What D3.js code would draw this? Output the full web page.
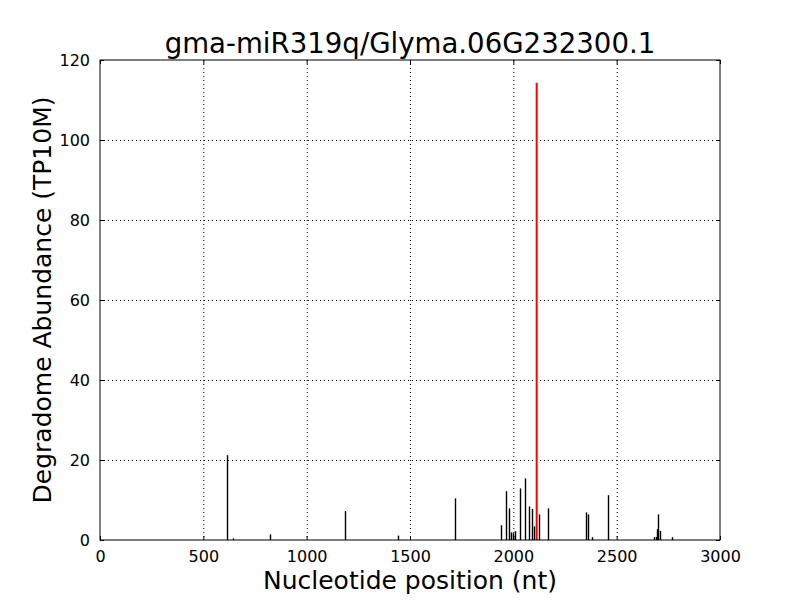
<!DOCTYPE html>
<html>
<head>
<meta charset="utf-8">
<script src="https://cdn.jsdelivr.net/npm/d3@7/dist/d3.min.js"></script>
<style>
  body { margin: 0; background: #fff; }
  svg { font-family: "DejaVu Sans", sans-serif; }
</style>
</head>
<body>
<div id="chart"></div>
<script>
const title = 'gma-miR319q/Glyma.06G232300.1';
const xLabel = 'Nucleotide position (nt)';
const yLabel = 'Degradome Abundance (TP10M)';

// degradome tags (position in nt, abundance)
const positions = [616, 642, 824, 1187, 1442, 1719, 1942, 1966, 1981, 1990, 2000, 2010,
    2034, 2058, 2077, 2092, 2101, 2123, 2169, 2353, 2363, 2382, 2460, 2682, 2690, 2697,
    2702, 2711, 2769];
const values = [21.2, 0.4, 1.4, 7.25, 1.1, 10.4, 3.7, 12.2, 7.9, 1.9, 1.7, 2.2,
    12.9, 15.4, 8.4, 7.75, 3.4, 6.4, 7.9, 6.9, 6.4, 0.7, 11.2, 0.75, 0.75, 2.7,
    6.4, 2.25, 0.7];

// cleavage site
const sitePos = [2113];
const siteVal = [114.3];

const xTicks = [0, 500, 1000, 1500, 2000, 2500, 3000];
const yTicks = [0, 20, 40, 60, 80, 100, 120];

const specs = {
    width: 800,
    height: 600,
    margin: { top: 60, right: 80, bottom: 60, left: 100 },
};

const width = specs.width - specs.margin.left - specs.margin.right;
const height = specs.height - specs.margin.top - specs.margin.bottom;

const x = d3.scaleLinear().domain([0, 3000]).range([0, width]);
const y = d3.scaleLinear().domain([0, 120]).range([height, 0]);

const svg = d3.select('#chart')
    .append('svg')
    .attr('width', specs.width)
    .attr('height', specs.height);

const g = svg.append('g')
    .attr('transform', `translate(${specs.margin.left},${specs.margin.top})`);

// grid
g.append('g')
    .selectAll('line')
    .data(xTicks.slice(1, -1))
    .enter()
    .append('line')
    .attr('x1', d => x(d) + 0.5)
    .attr('x2', d => x(d) + 0.5)
    .attr('y1', 0)
    .attr('y2', height)
    .attr('stroke', '#000')
    .attr('stroke-width', 1)
    .attr('stroke-dasharray', '1,3');

g.append('g')
    .selectAll('line')
    .data(yTicks.slice(1, -1))
    .enter()
    .append('line')
    .attr('x1', 0)
    .attr('x2', width)
    .attr('y1', d => y(d) + 0.5)
    .attr('y2', d => y(d) + 0.5)
    .attr('stroke', '#000')
    .attr('stroke-width', 1)
    .attr('stroke-dasharray', '1,3');

// bars
const tags = positions.map((p, i) => ({ pos: p, value: values[i] }));
g.append('g')
    .selectAll('line')
    .data(tags)
    .enter()
    .append('line')
    .attr('x1', d => Math.round(x(d.pos)) + 0.5)
    .attr('x2', d => Math.round(x(d.pos)) + 0.5)
    .attr('y1', y(0))
    .attr('y2', d => y(d.value))
    .attr('stroke', '#000')
    .attr('stroke-width', 1.4);

g.append('g')
    .selectAll('line')
    .data(sitePos.map((p, i) => ({ pos: p, value: siteVal[i] })))
    .enter()
    .append('line')
    .attr('x1', d => x(d.pos))
    .attr('x2', d => x(d.pos))
    .attr('y1', y(0))
    .attr('y2', d => y(d.value))
    .attr('stroke', '#ff0000')
    .attr('stroke-width', 2);

// axes, ticks inward on all sides
const tickFont = g => g.selectAll('text')
    .attr('font-size', '16px')
    .attr('font-family', '"DejaVu Sans", sans-serif')
    .attr('fill', '#000');

g.append('g')
    .attr('transform', `translate(0,${height})`)
    .call(d3.axisBottom(x).tickValues(xTicks).tickSize(-4).tickPadding(11).tickFormat(d3.format('d')))
    .call(tickFont)
    .call(a => a.select('.domain').remove());

g.append('g')
    .call(d3.axisTop(x).tickValues(xTicks).tickSize(-4).tickFormat(''))
    .call(a => a.select('.domain').remove());

g.append('g')
    .call(d3.axisLeft(y).tickValues(yTicks).tickSize(-4).tickPadding(10).tickFormat(d3.format('d')))
    .call(tickFont)
    .call(a => a.select('.domain').remove());

g.append('g')
    .attr('transform', `translate(${width},0)`)
    .call(d3.axisRight(y).tickValues(yTicks).tickSize(-4).tickFormat(''))
    .call(a => a.select('.domain').remove());

g.append('rect')
    .attr('x', 0)
    .attr('y', 0)
    .attr('width', width)
    .attr('height', height)
    .attr('fill', 'none')
    .attr('stroke', '#000')
    .attr('stroke-width', 1);

// labels
svg.append('text')
    .attr('x', specs.margin.left + width / 2)
    .attr('y', 53)
    .attr('text-anchor', 'middle')
    .attr('font-size', '27.6px')
    .text(title);

svg.append('text')
    .attr('x', specs.margin.left + width / 2)
    .attr('y', 589)
    .attr('text-anchor', 'middle')
    .attr('font-size', '25px')
    .text(xLabel);

svg.append('text')
    .attr('transform', `translate(51,${specs.margin.top + height / 2}) rotate(-90)`)
    .attr('text-anchor', 'middle')
    .attr('font-size', '25px')
    .text(yLabel);
</script>
</body>
</html>
